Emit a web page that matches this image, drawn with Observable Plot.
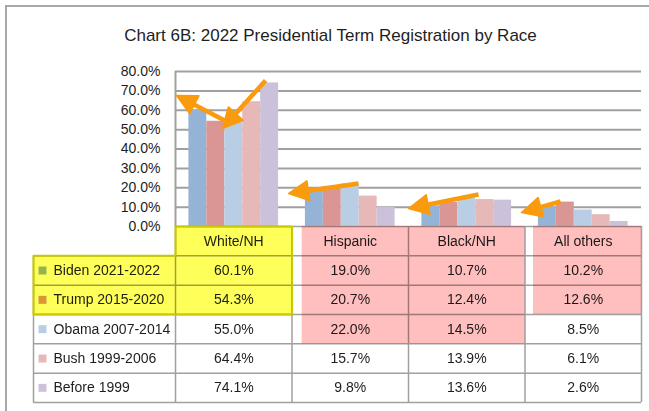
<!DOCTYPE html>
<html>
<head>
<meta charset="utf-8">
<script src="https://cdn.jsdelivr.net/npm/d3@7"></script>
<script src="https://cdn.jsdelivr.net/npm/@observablehq/plot@0.6"></script>
<style>
  html, body { margin: 0; padding: 0; background: #fff; }
  #wrap { position: relative; width: 649px; height: 411px; overflow: hidden; background: #fff;
          font-family: "Liberation Sans", Arial, sans-serif; color: #1e1e1e; }
  #frame { position: absolute; left: 5px; top: 5px; width: 700px; height: 500px;
           border-top: 2px solid #a8a8a8; border-left: 2px solid #a8a8a8; z-index: 5; pointer-events: none; }
  #title { position: absolute; left: 6px; top: 26px; width: 649px; text-align: center;
           font-size: 17px; line-height: 20px; z-index: 4; color: #1e1e1e; }
  #chart { position: absolute; left: 0; top: 0; z-index: 1; }
  #table { position: absolute; left: 0; top: 226px; z-index: 2; }
</style>
</head>
<body>
<div id="wrap">
  <div id="frame"></div>
  <div id="title">Chart 6B: 2022 Presidential Term Registration by Race</div>
  <div id="chart"></div>
  <div id="table"></div>
</div>
<script>
// ---------- data ----------
const categories = ["White/NH", "Hispanic", "Black/NH", "All others"];
const series = ["Biden 2021-2022", "Trump 2015-2020", "Obama 2007-2014", "Bush 1999-2006", "Before 1999"];
const biden      = [60.1, 19.0, 10.7, 10.2];
const trump      = [54.3, 20.7, 12.4, 12.6];
const obama      = [55.0, 22.0, 14.5, 8.5];
const bush       = [64.4, 15.7, 13.9, 6.1];
const before1999 = [74.1, 9.8, 13.6, 2.6];
const yTicks = [0, 10, 20, 30, 40, 50, 60, 70, 80];
const colors = ["#95B3D7", "#D99694", "#B9CDE5", "#E6B9B8", "#CCC1DA"];

// annotation arrows (x in category units, y in percent)
const arrowX1 = [0.455, 0.773, 1.571, 2.601, 3.305];
const arrowY1 = [53.7, 75.4, 22.2, 16.5, 12.9];
const arrowX2 = [0.009, 0.403, 0.970, 2.000, 2.970];
const arrowY2 = [67.6, 50.6, 17.0, 9.3, 7.2];

// ---------- layout ----------
const FONT = "'Liberation Sans', Arial, sans-serif";
const W = 649, H = 226, ML = 175, MR = 8, MT = 71, MB = 0;
const PAD = 0.115, BW = 0.154;
const LABEL_W = 1.219;
const ORANGE = "#F99B0C";
const GRID = "#a0a0a0";

const seriesValues = [biden, trump, obama, bush, before1999];
const bars = [];
seriesValues.forEach((vals, si) => vals.forEach((v, ci) => bars.push({series: series[si], si, ci, value: v})));

const xs = Plot.scale({x: {domain: [0, 4], range: [ML, W - MR]}});
const ys = Plot.scale({y: {domain: [0, 80], range: [H - MB, MT]}});
const HEAD_L = 20, HEAD_HW = 10;
const shafts = [], heads = [];
arrowX1.forEach((_, i) => {
  const tx = xs.apply(arrowX1[i]), ty = ys.apply(arrowY1[i]);
  const px = xs.apply(arrowX2[i]), py = ys.apply(arrowY2[i]);
  const len = Math.hypot(px - tx, py - ty);
  const ux = (px - tx) / len, uy = (py - ty) / len;
  const nx = -uy, ny = ux;
  const bx = px - ux * HEAD_L, by = py - uy * HEAD_L;
  shafts.push({x1: arrowX1[i], y1: arrowY1[i], x2: xs.invert(bx + ux * 2), y2: ys.invert(by + uy * 2)});
  [[px, py], [bx + nx * HEAD_HW, by + ny * HEAD_HW], [bx - nx * HEAD_HW, by - ny * HEAD_HW], [px, py]]
    .forEach(([qx, qy]) => heads.push({id: i, x: xs.invert(qx), y: ys.invert(qy)}));
});

const chart = Plot.plot({
  width: W, height: H, marginLeft: ML, marginRight: MR, marginTop: MT, marginBottom: MB,
  style: {background: "transparent", fontFamily: FONT, fontSize: "14px", color: "#1e1e1e", overflow: "visible"},
  x: {domain: [0, 4], axis: null},
  y: {domain: [0, 80], ticks: yTicks, tickFormat: d => d.toFixed(1) + "%", tickSize: 0, tickPadding: 15, label: null},
  color: {domain: series, range: colors},
  marks: [
    Plot.ruleY(yTicks.filter(t => t > 0), {x1: 0, x2: 4, stroke: GRID, strokeWidth: 2}),
    Plot.ruleX([0], {y1: 0, y2: 80, stroke: GRID, strokeWidth: 2}),
    Plot.rect(bars, {
      x1: d => d.ci + PAD + d.si * BW,
      x2: d => d.ci + PAD + (d.si + 1) * BW,
      y1: 0, y2: "value", fill: "series"
    }),
    Plot.link(shafts, {x1: "x1", y1: "y1", x2: "x2", y2: "y2", stroke: ORANGE, strokeWidth: 4.5}),
    Plot.line(heads, {x: "x", y: "y", z: "id", fill: ORANGE, stroke: ORANGE, strokeWidth: 1.5, strokeLinejoin: "round", curve: "linear"})
  ]
});
document.getElementById("chart").appendChild(chart);

// ---------- data table ----------
const cells = bars;
const pinkRects = [{x1: 1.087, x2: 3, y1: 0, y2: 4}, {x1: 3.073, x2: 4, y1: 0, y2: 3}];
const yellowRects = [{x1: 0, x2: 1, y1: 0, y2: 1}, {x1: -LABEL_W, x2: 1, y1: 1, y2: 3}];
const yellowOutline = [[0, 0], [1, 0], [1, 3], [-LABEL_W, 3], [-LABEL_W, 1], [0, 1], [0, 0]].map(([x, y]) => ({x, y}));

const table = Plot.plot({
  width: W, height: 178, marginLeft: 33, marginRight: MR, marginTop: 0, marginBottom: 2,
  style: {background: "transparent", fontFamily: FONT, fontSize: "14px", color: "#1e1e1e", overflow: "visible"},
  x: {domain: [-LABEL_W, 4], axis: null},
  y: {domain: [0, 6], reverse: true, axis: null},
  color: {domain: series, range: colors},
  marks: [
    Plot.ruleY([1, 2, 3, 4, 5, 6], {x1: -LABEL_W, x2: 4, stroke: GRID, strokeWidth: 1.5}),
    Plot.ruleY([0], {x1: 0, x2: 4, stroke: GRID, strokeWidth: 1.5}),
    Plot.ruleX([0, 1, 2, 3, 4], {y1: 0, y2: 6, stroke: GRID, strokeWidth: 1.5}),
    Plot.ruleX([-LABEL_W], {y1: 1, y2: 6, stroke: GRID, strokeWidth: 1.5}),
    Plot.dot(series, {x: -LABEL_W, y: (d, i) => i + 1.5, dx: 9, symbol: "square", r: 4.5, fill: d => d, stroke: "none"}),
    Plot.text(series, {x: -LABEL_W, y: (d, i) => i + 1.5, dx: 20, text: d => d, textAnchor: "start", fill: "#1e1e1e"}),
    Plot.text(categories, {x: (d, i) => i + 0.5, y: 0.5, text: d => d, fill: "#1e1e1e"}),
    Plot.text(cells, {x: d => d.ci + 0.5, y: d => d.si + 1.5, text: d => d.value.toFixed(1) + "%", fill: "#1e1e1e"}),
    Plot.rect(pinkRects, {x1: "x1", x2: "x2", y1: "y1", y2: "y2", fill: "#FFBFBF", mixBlendMode: "multiply"}),
    Plot.rect(yellowRects, {x1: "x1", x2: "x2", y1: "y1", y2: "y2", fill: "#FFFF5A", mixBlendMode: "multiply"}),
    Plot.line(yellowOutline, {x: "x", y: "y", stroke: "#C8C800", strokeWidth: 2})
  ]
});
document.getElementById("table").appendChild(table);
</script>
</body>
</html>
